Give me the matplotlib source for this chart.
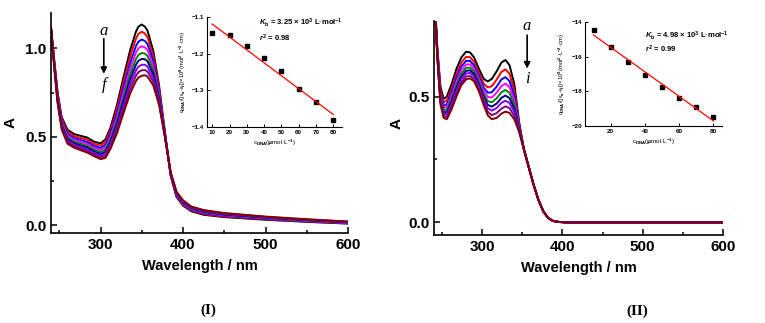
import numpy as np
import matplotlib
matplotlib.use("Agg")
import matplotlib.pyplot as plt

plt.rcParams['font.family'] = ['Liberation Sans', 'DejaVu Sans']
plt.rcParams['mathtext.fontset'] = 'custom'
plt.rcParams['mathtext.rm'] = 'Liberation Sans:bold'
plt.rcParams['mathtext.it'] = 'Liberation Sans:italic:bold'
plt.rcParams['mathtext.bf'] = 'Liberation Sans:bold'

# ---------------- Panel I spectra ----------------
wl_I = [240, 244, 248, 253, 260, 268, 276, 284, 292, 300, 306, 312, 320, 328, 336,
        343, 346, 350, 354, 357, 364, 371, 378, 385, 392, 400, 410, 425, 450, 500, 550, 600]
I_a = [1.120, 0.930, 0.750, 0.610, 0.540, 0.515, 0.505, 0.495, 0.472, 0.462, 0.485, 0.550, 0.680, 0.840, 0.990,
       1.095, 1.123, 1.135, 1.122, 1.100, 0.985, 0.790, 0.530, 0.280, 0.160, 0.110, 0.078, 0.058, 0.045, 0.030, 0.018, 0.008]
I_b = [1.119, 0.924, 0.742, 0.600, 0.529, 0.504, 0.493, 0.483, 0.460, 0.449, 0.470, 0.533, 0.657, 0.811, 0.955,
       1.055, 1.082, 1.094, 1.083, 1.063, 0.957, 0.774, 0.526, 0.283, 0.164, 0.114, 0.082, 0.062, 0.048, 0.033, 0.020, 0.010]
I_c = [1.117, 0.918, 0.732, 0.589, 0.516, 0.492, 0.481, 0.470, 0.448, 0.436, 0.454, 0.515, 0.633, 0.780, 0.918,
       1.013, 1.038, 1.050, 1.041, 1.024, 0.928, 0.758, 0.521, 0.286, 0.169, 0.119, 0.086, 0.066, 0.052, 0.035, 0.022, 0.012]
I_d = [1.116, 0.913, 0.724, 0.580, 0.506, 0.482, 0.470, 0.459, 0.437, 0.424, 0.440, 0.499, 0.612, 0.753, 0.886,
       0.976, 1.000, 1.012, 1.005, 0.989, 0.902, 0.743, 0.517, 0.289, 0.173, 0.123, 0.090, 0.070, 0.055, 0.038, 0.024, 0.013]
I_e = [1.114, 0.908, 0.717, 0.571, 0.496, 0.472, 0.460, 0.448, 0.427, 0.413, 0.427, 0.484, 0.591, 0.726, 0.854,
       0.940, 0.963, 0.974, 0.970, 0.956, 0.877, 0.729, 0.513, 0.291, 0.177, 0.127, 0.093, 0.073, 0.058, 0.040, 0.026, 0.015]
I_f = [1.113, 0.903, 0.710, 0.563, 0.486, 0.463, 0.450, 0.438, 0.417, 0.402, 0.415, 0.470, 0.573, 0.702, 0.826,
       0.907, 0.930, 0.940, 0.938, 0.926, 0.854, 0.716, 0.510, 0.293, 0.180, 0.130, 0.096, 0.076, 0.060, 0.042, 0.028, 0.016]
I_g = [1.112, 0.899, 0.703, 0.555, 0.477, 0.455, 0.441, 0.428, 0.408, 0.392, 0.403, 0.456, 0.554, 0.679, 0.798,
       0.875, 0.897, 0.907, 0.907, 0.896, 0.832, 0.704, 0.506, 0.296, 0.184, 0.134, 0.099, 0.079, 0.063, 0.044, 0.030, 0.017]
I_h = [1.111, 0.894, 0.696, 0.548, 0.469, 0.446, 0.432, 0.419, 0.399, 0.383, 0.391, 0.443, 0.537, 0.657, 0.771,
       0.845, 0.866, 0.876, 0.877, 0.868, 0.811, 0.692, 0.503, 0.298, 0.187, 0.137, 0.102, 0.082, 0.066, 0.046, 0.031, 0.019]
I_i = [1.110, 0.890, 0.690, 0.540, 0.460, 0.438, 0.423, 0.410, 0.390, 0.373, 0.380, 0.430, 0.520, 0.635, 0.745,
       0.815, 0.835, 0.845, 0.848, 0.840, 0.790, 0.680, 0.500, 0.300, 0.190, 0.140, 0.105, 0.085, 0.068, 0.048, 0.033, 0.020]

# ---------------- Panel II spectra ----------------
wl_II = [240, 244, 248, 252, 256, 262, 268, 274, 280, 285, 290, 296, 302, 307, 312, 318, 324, 329, 334, 340, 346]
II_a = [0.95, 0.700, 0.540, 0.490, 0.500, 0.550, 0.610, 0.655, 0.678, 0.675, 0.655, 0.610, 0.570, 0.560, 0.570, 0.600, 0.635, 0.645, 0.625, 0.550, 0.400]
II_b = [0.95, 0.693, 0.527, 0.477, 0.484, 0.532, 0.590, 0.635, 0.658, 0.656, 0.638, 0.594, 0.551, 0.536, 0.541, 0.567, 0.598, 0.608, 0.591, 0.525, 0.393]
II_c = [0.95, 0.687, 0.517, 0.465, 0.470, 0.517, 0.574, 0.619, 0.642, 0.641, 0.624, 0.580, 0.535, 0.515, 0.517, 0.539, 0.568, 0.577, 0.562, 0.504, 0.387]
II_d = [0.95, 0.682, 0.508, 0.456, 0.459, 0.504, 0.559, 0.604, 0.627, 0.628, 0.611, 0.569, 0.522, 0.498, 0.496, 0.515, 0.542, 0.551, 0.538, 0.486, 0.382]
II_e = [0.95, 0.677, 0.499, 0.447, 0.448, 0.492, 0.546, 0.591, 0.614, 0.615, 0.600, 0.558, 0.509, 0.482, 0.477, 0.493, 0.517, 0.526, 0.515, 0.469, 0.377]
II_f = [0.95, 0.672, 0.492, 0.438, 0.438, 0.481, 0.534, 0.579, 0.602, 0.604, 0.589, 0.548, 0.498, 0.467, 0.460, 0.472, 0.495, 0.504, 0.494, 0.453, 0.372]
II_g = [0.95, 0.668, 0.485, 0.431, 0.429, 0.471, 0.523, 0.568, 0.591, 0.594, 0.580, 0.539, 0.487, 0.453, 0.444, 0.454, 0.475, 0.483, 0.475, 0.439, 0.368]
II_h = [0.95, 0.664, 0.477, 0.423, 0.419, 0.460, 0.511, 0.556, 0.579, 0.582, 0.570, 0.529, 0.476, 0.439, 0.426, 0.434, 0.452, 0.461, 0.454, 0.424, 0.364]
II_i = [0.95, 0.660, 0.470, 0.415, 0.410, 0.450, 0.500, 0.545, 0.568, 0.572, 0.560, 0.520, 0.465, 0.425, 0.410, 0.415, 0.432, 0.440, 0.435, 0.410, 0.360]
wl_II_tail = [352, 358, 364, 370, 376, 382, 388, 395, 405, 450, 500, 550, 600]
II_tail = [0.290, 0.220, 0.150, 0.090, 0.045, 0.018, 0.006, 0.002, 0.000, 0.000, 0.000, 0.000, 0.000]

colors = ['#000000', '#FF0000', '#0000FF', '#FF00FF', '#008000', '#000080', '#7F00FF', '#800080', '#800000']

# ---------------- Insets ----------------
c_dna = [10, 20, 30, 40, 50, 60, 70, 80]
ins_I = [-1.143, -1.150, -1.178, -1.213, -1.248, -1.296, -1.333, -1.380]
ins_II = [-14.44, -15.47, -16.33, -17.06, -17.74, -18.39, -18.92, -19.49]

W, H = 765, 323
fig = plt.figure(figsize=(W / 100, H / 100), dpi=100)


def fr(l, t, r, b):
    return [l / W, 1 - b / H, (r - l) / W, (b - t) / H]


def style_main(ax):
    for s in ['top', 'right']:
        ax.spines[s].set_visible(False)
    for s in ['left', 'bottom']:
        ax.spines[s].set_linewidth(1.2)
    ax.tick_params(which='both', direction='in', width=1.1, labelsize=11)
    ax.tick_params(which='major', length=4.5)
    ax.tick_params(which='minor', length=2.5)
    for lab in ax.get_xticklabels() + ax.get_yticklabels():
        lab.set_fontweight('bold')
    ax.set_xlim(240, 600)
    ax.set_xticks([300, 400, 500, 600])
    ax.set_xticks([250, 350, 450, 550], minor=True)
    ax.set_xlabel('Wavelength / nm', fontsize=10.5, fontweight='bold', labelpad=5)
    ax.set_ylabel('A', fontsize=11, fontweight='bold')


def style_inset(ax):
    for s in ['top', 'right']:
        ax.spines[s].set_visible(False)
    for s in ['left', 'bottom']:
        ax.spines[s].set_linewidth(0.8)
    ax.tick_params(which='both', direction='in', width=0.7, length=2, labelsize=4.5, pad=2)
    for lab in ax.get_xticklabels() + ax.get_yticklabels():
        lab.set_fontweight('bold')


# Panel I
ax1 = fig.add_axes(fr(51, 13, 348, 233))
for ys, c in zip([I_a, I_b, I_c, I_d, I_e, I_f, I_g, I_h, I_i], colors):
    ax1.plot(wl_I, ys, color=c, lw=1.4, solid_joinstyle='round')
ax1.set_ylim(-0.045, 1.2)
ax1.set_yticks([0.0, 0.5, 1.0])
ax1.set_yticks([0.25, 0.75], minor=True)
ax1.set_yticklabels(['0.0', '0.5', '1.0'])
style_main(ax1)
ax1.yaxis.set_label_coords(-0.114, 0.5)
ax1.text(304, 1.10, 'a', fontsize=12, style='italic', family='Liberation Serif', ha='center', va='center')
ax1.annotate('', xy=(304, 0.84), xytext=(304, 1.07),
             arrowprops=dict(arrowstyle='-|>', color='black', lw=1.2, mutation_scale=9))
ax1.text(304, 0.79, 'f', fontsize=12, style='italic', family='Liberation Serif', ha='center', va='center')

# Panel II
ax2 = fig.add_axes(fr(434, 21, 723, 235))
for ys, c in zip([II_a, II_b, II_c, II_d, II_e, II_f, II_g, II_h, II_i], colors):
    ax2.plot(list(wl_II) + list(wl_II_tail), list(ys) + list(II_tail), color=c, lw=1.4,
             solid_joinstyle='round')
ax2.set_ylim(-0.05, 0.8)
ax2.set_yticks([0.0, 0.5])
ax2.set_yticks([0.25], minor=True)
ax2.set_yticklabels(['0.0', '0.5'])
style_main(ax2)
ax2.yaxis.set_label_coords(-0.105, 0.52)
ax2.text(356, 0.78, 'a', fontsize=12, style='italic', family='Liberation Serif', ha='center', va='center')
ax2.annotate('', xy=(356, 0.60), xytext=(356, 0.755),
             arrowprops=dict(arrowstyle='-|>', color='black', lw=1.2, mutation_scale=9))
ax2.text(356, 0.57, 'i', fontsize=12, style='italic', family='Liberation Serif', ha='center', va='center')

# Inset I
ia = fig.add_axes(fr(207, 17, 342, 127))
ia.plot(c_dna, ins_I, 's', color='black', ms=2.8)
p1 = np.polyfit(c_dna, ins_I, 1)
xf = np.array([c_dna[0], c_dna[-1]])
ia.plot(xf, np.polyval(p1, xf), color='red', lw=0.9)
ia.set_xlim(7, 85)
ia.set_ylim(-1.4, -1.1)
ia.set_xticks(c_dna)
ia.set_yticks([-1.4, -1.3, -1.2, -1.1])
style_inset(ia)
ia.set_xlabel(r'c$_{\mathrm{DNA}}$($\mathrm{\mu}$mol·L$^{-1}$)', fontsize=4.5, labelpad=2)
ia.set_ylabel(r'c$_{\mathrm{DNA}}$/(|ε$_{\mathrm{a}}$-ε$_{\mathrm{f}}$|)×10$^{8}$(mol$^{2}$·L$^{-2}$·cm)',
              fontsize=4.2, labelpad=3)
ia.text(0.385, 0.95, r'$K_{\mathrm{b}}$ = 3.25 × 10$^{3}$ L·mol$^{-1}$', transform=ia.transAxes,
        fontsize=5.5, fontweight='bold', va='center')
ia.text(0.385, 0.81, r'$r^{2}$ = 0.98', transform=ia.transAxes, fontsize=5.5, fontweight='bold', va='center')

# Inset II
ib = fig.add_axes(fr(585, 22, 722, 126))
ib.plot(c_dna, ins_II, 's', color='black', ms=2.8)
p2 = np.polyfit(c_dna, ins_II, 1)
ib.plot(xf, np.polyval(p2, xf), color='red', lw=0.9)
ib.set_xlim(5, 85)
ib.set_ylim(-20, -14)
ib.set_xticks([20, 40, 60, 80])
ib.set_yticks([-20, -18, -16, -14])
style_inset(ib)
ib.set_xlabel(r'c$_{\mathrm{DNA}}$($\mathrm{\mu}$mol·L$^{-1}$)', fontsize=4.5, labelpad=2)
ib.set_ylabel(r'c$_{\mathrm{DNA}}$/(|ε$_{\mathrm{a}}$-ε$_{\mathrm{f}}$|)×10$^{9}$(mol$^{2}$·L$^{-2}$·cm)',
              fontsize=4.2, labelpad=3)
ib.text(0.44, 0.87, r'$K_{\mathrm{b}}$ = 4.98 × 10$^{3}$ L·mol$^{-1}$', transform=ib.transAxes,
        fontsize=5.5, fontweight='bold', va='center')
ib.text(0.44, 0.74, r'$r^{2}$ = 0.99', transform=ib.transAxes, fontsize=5.5, fontweight='bold', va='center')

fig.text(208 / W, 1 - 310 / H, '(I)', fontsize=11, fontweight='bold', family='Liberation Serif',
         ha='center', va='center')
fig.text(637 / W, 1 - 311 / H, '(II)', fontsize=11, fontweight='bold', family='Liberation Serif',
         ha='center', va='center')

fig.savefig('out.png', dpi=100)
